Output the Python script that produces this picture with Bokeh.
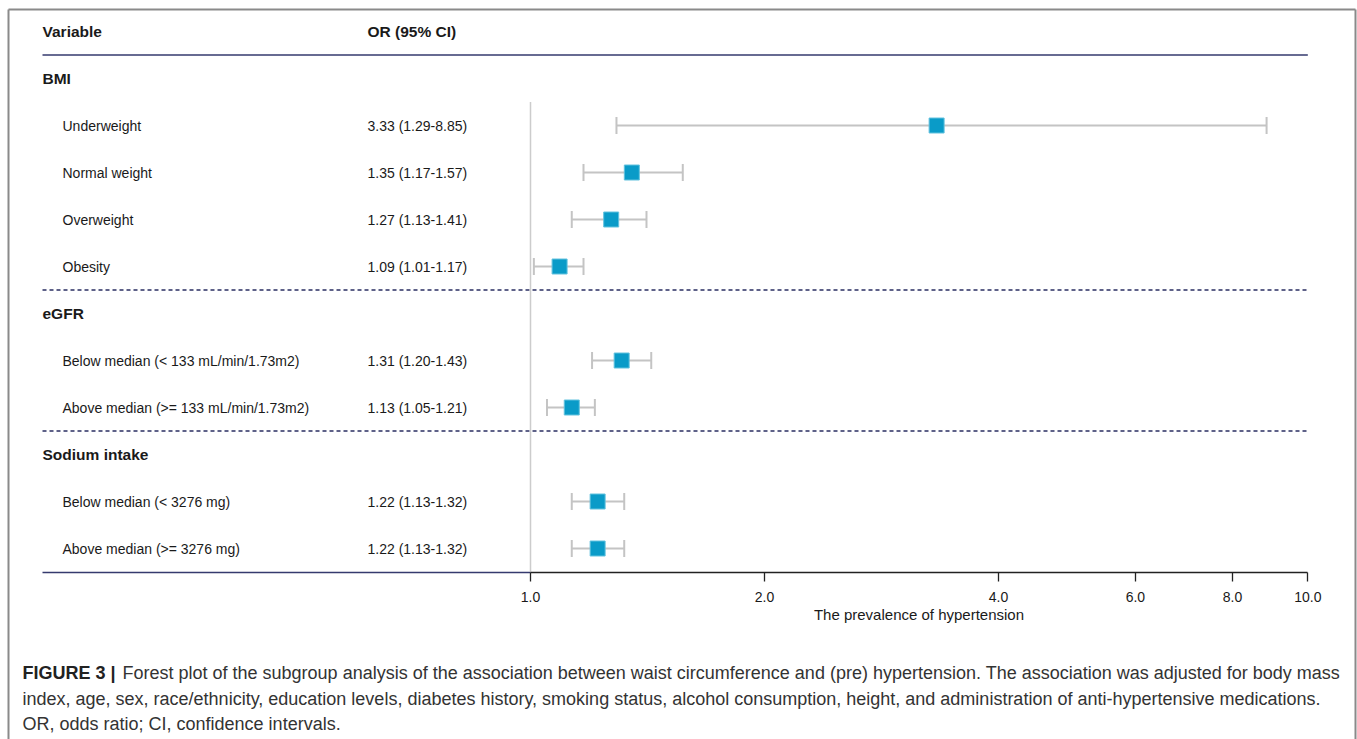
from bokeh.plotting import figure
from bokeh.models import (Range1d, LogAxis, FixedTicker, PrintfTickFormatter,
                          Whisker, TeeHead, ColumnDataSource)
from bokeh.core.properties import value
from bokeh.embed import file_html
from bokeh.resources import INLINE

# ---------------- data ----------------
header_labels = ["Variable", "OR (95% CI)"]
groups = ["BMI", "eGFR", "Sodium intake"]
group_rows = [1, 6, 9]
items = ["Underweight", "Normal weight", "Overweight", "Obesity",
         "Below median (< 133 mL/min/1.73m2)", "Above median (>= 133 mL/min/1.73m2)",
         "Below median (< 3276 mg)", "Above median (>= 3276 mg)"]
item_rows = [2, 3, 4, 5, 7, 8, 10, 11]
odds = [3.33, 1.35, 1.27, 1.09, 1.31, 1.13, 1.22, 1.22]
lower = [1.29, 1.17, 1.13, 1.01, 1.20, 1.05, 1.13, 1.13]
upper = [8.85, 1.57, 1.41, 1.17, 1.43, 1.21, 1.32, 1.32]
separator_rows = [5.5, 8.5]
ticks = [1, 2, 4, 6, 8, 10]
axis_title = "The prevalence of hypertension"
caption_bold = "FIGURE 3 |"
caption_lines = [
    "Forest plot of the subgroup analysis of the association between waist circumference and (pre) hypertension. The association was adjusted for body mass",
    "index, age, sex, race/ethnicity, education levels, diabetes history, smoking status, alcohol consumption, height, and administration of anti-hypertensive medications.",
    "OR, odds ratio; CI, confidence intervals.",
]

# ---------------- layout (canvas pixels) ----------------
W, H = 1357, 739
PX0, PXU = 530.0, 234.0   # canvas x of OR=1, pixels per doubling
PY0, PYU = 31.0, 47.0     # canvas y of row 0, pixels per row


def xd(px):
    return 2 ** ((px - PX0) / PXU)


def yd(py):
    return (py - PY0) / PYU


FONT = value("Liberation Sans")
NAVY = "#353a6e"
TXT = "#1a1a1a"

p = figure(width=W, height=H, x_axis_type="log", x_axis_location=None,
           y_axis_location=None, x_range=Range1d(xd(0), xd(W)),
           y_range=Range1d(yd(H), yd(0)), min_border=0,
           outline_line_color=None, toolbar_location=None,
           output_backend="svg", background_fill_color="white")
p.grid.visible = False

# border (left, top, right)
BL, BT, BR = 8, 9, 1355
p.segment(x0=[xd(BL), xd(BL), xd(BR)], x1=[xd(BL), xd(BR), xd(BR)],
          y0=[yd(H), yd(BT), yd(BT)], y1=[yd(BT), yd(BT), yd(H)],
          line_color="#8a8a8a", line_width=2)

LX, IX, OX = 42, 62, 367

# header texts
p.text(x=[xd(LX), xd(OX)], y=[0, 0], text=header_labels, text_font=FONT,
       text_font_size="15.5px", text_font_style="bold", text_color=TXT,
       text_baseline="middle")
# header rule
p.segment(x0=[xd(LX)], x1=[10], y0=[0.5], y1=[0.5], line_color=NAVY, line_width=1.4)
# separators
p.segment(x0=[xd(LX)] * len(separator_rows), x1=[10] * len(separator_rows),
          y0=separator_rows, y1=separator_rows, line_color="#2a2e62", line_width=1.3,
          line_dash="4 3")
# bottom rule left of the axis
p.segment(x0=[xd(LX)], x1=[1], y0=[11.51], y1=[11.51], line_color=NAVY, line_width=1.4)

# group labels
p.text(x=[xd(LX)] * len(groups), y=group_rows, text=groups, text_font=FONT,
       text_font_size="15.5px", text_font_style="bold", text_color=TXT,
       text_baseline="middle")

or_labels = [f"{o:.2f} ({l:.2f}-{u:.2f})" for o, l, u in zip(odds, lower, upper)]
src = ColumnDataSource(dict(row=item_rows, item=items, odds=odds, lo=lower, hi=upper,
                            lab=or_labels))

p.text(x=xd(IX), y="row", text="item", source=src, text_font=FONT,
       text_font_size="14px", text_color=TXT, text_baseline="middle")
p.text(x=xd(OX), y="row", text="lab", source=src, text_font=FONT,
       text_font_size="14px", text_color=TXT, text_baseline="middle")

# reference line at OR = 1
p.segment(x0=[1], x1=[1], y0=[1.5], y1=[11.5], line_color="#cccccc", line_width=1.5)

# CI whiskers
wcol = "#c4c4c4"
wh = Whisker(source=src, base="row", lower="lo", upper="hi", dimension="width",
             line_color=wcol, line_width=2,
             lower_head=TeeHead(size=17, line_color=wcol, line_width=2),
             upper_head=TeeHead(size=17, line_color=wcol, line_width=2))
p.add_layout(wh)

p.scatter(x="odds", y="row", source=src, marker="square", size=15,
          fill_color="#0a9bc8", line_color="#63c2de", line_width=1)

# x axis
ax = LogAxis(fixed_location=11.51, bounds=(1, 10),
             ticker=FixedTicker(ticks=ticks, minor_ticks=[]),
             formatter=PrintfTickFormatter(format="%.1f"),
             axis_label=axis_title,
             axis_line_color="#222222", axis_line_width=1.3,
             major_tick_line_color="#222222", major_tick_line_width=1.3,
             major_tick_out=9, major_tick_in=0, minor_tick_out=0, minor_tick_in=0,
             major_label_text_font="Liberation Sans", major_label_text_font_size="14px",
             major_label_text_color=TXT, major_label_standoff=11,
             axis_label_text_font="Liberation Sans", axis_label_text_font_size="15px",
             axis_label_text_font_style="normal", axis_label_text_color=TXT,
             axis_label_standoff=0)
p.add_layout(ax, "below")

# caption
CAP = "#333333"
cap_y = [yd(672), yd(698), yd(723)]
p.text(x=[xd(22)], y=[cap_y[0]], text=[caption_bold], text_font=FONT,
       text_font_size="18px", text_font_style="bold", text_color="#222222",
       text_baseline="middle")
p.text(x=[xd(122), xd(22), xd(22)], y=cap_y, text=caption_lines, text_font=FONT,
       text_font_size="18px", text_color=CAP, text_baseline="middle")

open("out.html", "w").write(file_html(p, INLINE))
